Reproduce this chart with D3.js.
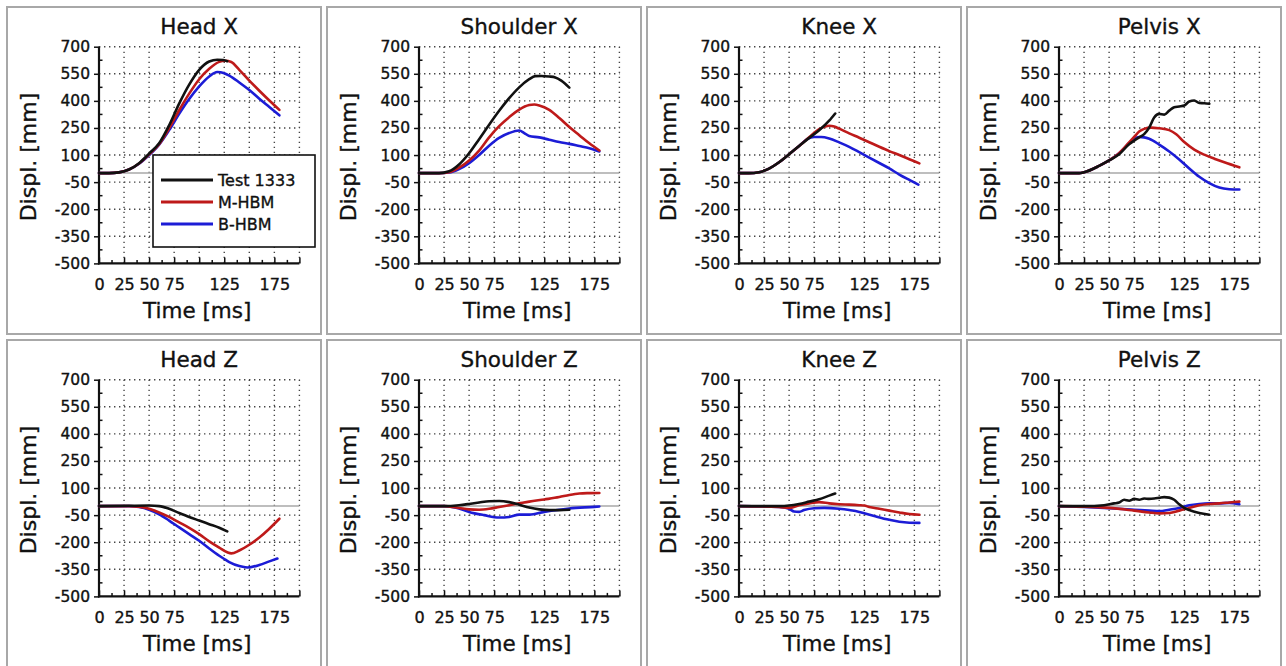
<!DOCTYPE html>
<html>
<head>
<meta charset="utf-8">
<script src="https://cdn.jsdelivr.net/npm/d3@7"></script>
<style>
  html, body { margin: 0; padding: 0; background: #fff; }
  svg { display: block; }
  text { font-family: "DejaVu Sans", Verdana, sans-serif; fill: #111; stroke: #111; stroke-width: 0.35px; }
</style>
</head>
<body>
<svg id="chart" width="1286" height="666"></svg>
<script>
// Panel titles, in reading order (top row: X displacement, bottom row: Z displacement)
const panelTitles = ["Head X", "Shoulder X", "Knee X", "Pelvis X",
                     "Head Z", "Shoulder Z", "Knee Z", "Pelvis Z"];
const seriesNames = ["Test 1333", "M-HBM", "B-HBM"];
const seriesColors = ["#111111", "#be1a1a", "#1c1cd6"];

const xGridTicks = [0, 25, 50, 75, 100, 125, 150, 175, 200];
const xLabelTicks = [0, 25, 50, 75, 125, 175];
const yTicks = [-500, -350, -200, -50, 100, 250, 400, 550, 700];

// [time ms, displacement mm]
const headXTest = [[0,0],[10,0],[20,4],[30,20],[40,55],[50,108],[60,165],[70,265],[80,385],[90,490],[100,572],[110,618],[118,628],[124,626],[128,620]];
const headXM    = [[0,0],[10,0],[20,4],[30,20],[40,53],[50,104],[60,160],[70,248],[80,348],[90,440],[100,520],[110,578],[120,616],[126,622],[132,615],[140,572],[150,512],[160,456],[170,402],[180,350]];
const headXB    = [[0,0],[10,0],[20,4],[30,20],[40,52],[50,100],[60,158],[70,238],[80,328],[90,410],[100,480],[110,535],[118,560],[125,553],[130,540],[140,502],[150,460],[160,412],[170,366],[180,320]];

const shoulderXTest = [[0,0],[20,0],[30,10],[40,48],[50,110],[60,188],[70,268],[80,345],[90,415],[100,475],[110,520],[116,537],[122,538],[130,535],[136,530],[142,512],[150,473]];
const shoulderXM    = [[0,0],[20,0],[30,5],[40,30],[50,70],[60,125],[70,198],[80,260],[90,310],[100,352],[110,377],[115,380],[120,375],[130,350],[140,305],[150,255],[160,210],[170,165],[180,125]];
const shoulderXB    = [[0,0],[20,0],[30,3],[40,22],[50,55],[60,100],[70,152],[80,195],[90,222],[100,236],[105,222],[110,205],[120,198],[130,185],[140,172],[150,162],[160,150],[170,138],[180,120]];

const kneeXTest = [[0,0],[10,0],[20,5],[30,25],[40,60],[50,105],[60,150],[70,195],[80,237],[90,290],[96,330]];
const kneeXM    = [[0,0],[10,0],[20,5],[30,25],[40,60],[50,105],[60,150],[70,198],[80,243],[86,258],[90,262],[95,258],[100,246],[110,220],[120,196],[130,171],[140,146],[150,122],[160,100],[170,77],[180,54]];
const kneeXB    = [[0,0],[10,0],[20,5],[30,25],[40,60],[50,105],[60,150],[68,188],[75,200],[82,200],[90,192],[100,170],[110,145],[120,116],[130,86],[140,56],[150,26],[160,-8],[170,-38],[179,-64]];

const pelvisXTest = [[0,0],[20,0],[25,5],[40,40],[50,70],[60,104],[70,160],[75,180],[80,198],[85,216],[90,252],[95,308],[100,328],[105,324],[110,346],[115,365],[120,369],[125,374],[130,397],[135,402],[140,388],[145,387],[150,384]];
const pelvisXM    = [[0,0],[20,0],[25,5],[40,40],[50,70],[60,110],[70,170],[75,200],[80,230],[85,245],[92,252],[100,248],[110,238],[117,215],[125,172],[135,130],[145,102],[155,80],[165,60],[180,32]];
const pelvisXB    = [[0,0],[20,0],[25,5],[40,40],[50,70],[60,110],[70,165],[75,190],[80,200],[85,198],[90,190],[100,158],[110,120],[120,76],[130,26],[140,-20],[150,-55],[160,-80],[170,-89],[180,-91]];

const headZTest = [[0,0],[30,2],[50,3],[60,0],[70,-15],[80,-38],[90,-60],[100,-80],[110,-100],[120,-120],[128,-140]];
const headZM    = [[0,0],[30,0],[40,-3],[50,-15],[60,-35],[70,-60],[80,-90],[90,-120],[100,-155],[110,-195],[120,-230],[128,-256],[132,-262],[140,-246],[150,-214],[160,-174],[170,-125],[180,-70]];
const headZB    = [[0,0],[30,0],[40,-5],[50,-20],[60,-45],[70,-80],[80,-118],[90,-155],[100,-192],[110,-235],[120,-275],[125,-293],[130,-310],[140,-332],[148,-340],[160,-326],[170,-306],[178,-290]];

const shoulderZTest = [[0,0],[25,0],[40,5],[50,12],[60,20],[70,27],[80,28],[90,22],[100,8],[110,-8],[120,-18],[130,-22],[140,-22],[150,-20]];
const shoulderZM    = [[0,0],[25,0],[40,-10],[50,-18],[60,-20],[70,-15],[80,-5],[90,5],[100,15],[110,25],[125,37],[140,50],[150,62],[160,70],[170,72],[180,73]];
const shoulderZB    = [[0,0],[25,0],[40,-13],[50,-32],[65,-50],[80,-63],[90,-60],[100,-47],[110,-47],[125,-32],[150,-13],[175,-4],[180,-2]];

const kneeZTest = [[0,0],[40,0],[50,3],[60,12],[70,25],[80,38],[90,58],[96,70]];
const kneeZM    = [[0,0],[40,-5],[50,-10],[60,5],[70,15],[80,22],[90,15],[100,10],[110,8],[120,5],[125,3],[130,-5],[140,-15],[150,-25],[160,-35],[170,-44],[180,-48]];
const kneeZB    = [[0,0],[40,-5],[50,-15],[55,-30],[60,-32],[65,-22],[75,-12],[85,-10],[100,-15],[110,-22],[120,-32],[125,-40],[135,-55],[150,-76],[160,-87],[170,-92],[180,-93]];

const pelvisZTest = [[0,0],[25,0],[45,5],[55,15],[60,20],[65,35],[70,30],[75,40],[80,35],[85,42],[90,40],[95,42],[100,46],[105,50],[110,47],[115,35],[120,10],[125,-10],[130,-22],[140,-38],[150,-48]];
const pelvisZM    = [[0,0],[25,-3],[50,-10],[75,-25],[90,-35],[100,-40],[110,-38],[120,-25],[130,-10],[140,5],[150,12],[160,15],[170,20],[180,25]];
const pelvisZB    = [[0,0],[25,-5],[50,-12],[75,-20],[90,-25],[100,-28],[110,-20],[120,-10],[130,5],[140,12],[150,15],[160,15],[170,18],[180,10]];

const panelSeries = [
  [headXTest, headXM, headXB],
  [shoulderXTest, shoulderXM, shoulderXB],
  [kneeXTest, kneeXM, kneeXB],
  [pelvisXTest, pelvisXM, pelvisXB],
  [headZTest, headZM, headZB],
  [shoulderZTest, shoulderZM, shoulderZB],
  [kneeZTest, kneeZM, kneeZB],
  [pelvisZTest, pelvisZM, pelvisZB]
];

// ---- layout ----
const frameLefts = [7, 327, 647, 967];
const frameTops = [7, 340];
const frameW = 314, frameH = 327;
const plotOffX = 92, plotOffY = 39.7;
const plotW = 200.4, plotH = 216.7;

const svg = d3.select("#chart");

const x = d3.scaleLinear().domain([0, 200]).range([0, plotW]);
const y = d3.scaleLinear().domain([-500, 700]).range([plotH, 0]);

panelTitles.forEach((title, i) => {
  const col = i % 4, row = Math.floor(i / 4);
  const fx = frameLefts[col], fy = frameTops[row];

  const frame = svg.append("g").attr("transform", `translate(${fx},${fy})`);
  frame.append("rect")
    .attr("x", 0).attr("y", 0)
    .attr("width", frameW).attr("height", frameH)
    .attr("fill", "#fff").attr("stroke", "#a8a8a8").attr("stroke-width", 2);

  const g = frame.append("g").attr("transform", `translate(${plotOffX},${plotOffY})`);

  // dotted grid
  g.append("g").selectAll("line.vg").data(xGridTicks.slice(1)).join("line")
    .attr("x1", d => x(d)).attr("x2", d => x(d))
    .attr("y1", 0).attr("y2", plotH)
    .attr("stroke", "#444").attr("stroke-width", 1.4)
    .attr("stroke-dasharray", "1.4,3.6");
  g.append("g").selectAll("line.hg").data(yTicks.slice(1)).join("line")
    .attr("x1", 0).attr("x2", plotW)
    .attr("y1", d => y(d)).attr("y2", d => y(d))
    .attr("stroke", "#444").attr("stroke-width", 1.4)
    .attr("stroke-dasharray", "1.4,3.6");

  // zero reference line
  g.append("line")
    .attr("x1", 0).attr("x2", plotW)
    .attr("y1", y(0)).attr("y2", y(0))
    .attr("stroke", "#a9a9a9").attr("stroke-width", 1.5);

  // x axis: major ticks every 25 ms, minor every 12.5 ms, pointing up
  const xAxis = d3.axisBottom(x)
    .tickValues(d3.range(0, 200.1, 12.5))
    .tickSize(0).tickFormat("");
  const xa = g.append("g").attr("transform", `translate(0,${plotH})`).call(xAxis);
  xa.select(".domain").remove();
  xa.selectAll(".tick line").remove();
  xa.selectAll(".tick").append("line")
    .attr("y1", 0).attr("y2", d => (d % 25 === 0 ? -6 : -3.5))
    .attr("stroke", "#111").attr("stroke-width", 1.5);
  xa.selectAll(".tick")
    .filter(d => xLabelTicks.includes(d))
    .append("text")
    .attr("y", 27).attr("text-anchor", "middle")
    .attr("font-size", 16)
    .text(d => d);
  g.append("line")
    .attr("x1", -1).attr("x2", plotW)
    .attr("y1", plotH).attr("y2", plotH)
    .attr("stroke", "#111").attr("stroke-width", 2.2);

  // y axis: labelled ticks every 150 mm pointing out, minor ticks in between pointing in
  const yAxis = d3.axisLeft(y).tickValues(yTicks).tickSize(5).tickPadding(4)
    .tickFormat(d => String(d));
  const ya = g.append("g").call(yAxis);
  ya.select(".domain").remove();
  ya.selectAll(".tick line").attr("stroke", "#111").attr("stroke-width", 1.5);
  ya.selectAll(".tick text")
    .attr("font-size", 15.5)
    .attr("font-family", "DejaVu Sans, Verdana, sans-serif")
    .attr("fill", "#111");
  g.append("g").selectAll("line").data(d3.range(-425, 700, 150)).join("line")
    .attr("x1", 0).attr("x2", 3.5)
    .attr("y1", d => y(d)).attr("y2", d => y(d))
    .attr("stroke", "#111").attr("stroke-width", 1.5);
  g.append("line")
    .attr("x1", 0).attr("x2", 0)
    .attr("y1", 0).attr("y2", plotH + 1)
    .attr("stroke", "#111").attr("stroke-width", 2.2);

  // data curves
  const line = d3.line()
    .x(d => x(d[0])).y(d => y(d[1]))
    .curve(d3.curveMonotoneX);
  // draw blue, red, then black on top
  [2, 1, 0].forEach(k => {
    g.append("path")
      .datum(panelSeries[i][k])
      .attr("d", line)
      .attr("fill", "none")
      .attr("stroke", seriesColors[k])
      .attr("stroke-width", 2.6)
      .attr("stroke-linejoin", "round")
      .attr("stroke-linecap", "round");
  });

  // title and axis titles
  frame.append("text")
    .attr("x", plotOffX + plotW / 2).attr("y", 26.5)
    .attr("text-anchor", "middle").attr("font-size", 21.5)
    .text(title);
  frame.append("text")
    .attr("x", plotOffX + plotW / 2 - 2).attr("y", plotOffY + plotH + 54.5)
    .attr("text-anchor", "middle").attr("font-size", 21.5)
    .text("Time [ms]");
  frame.append("text")
    .attr("transform", `translate(${plotOffX - 63},${plotOffY + plotH / 2 + 2}) rotate(-90)`)
    .attr("text-anchor", "middle").attr("font-size", 22)
    .text("Displ. [mm]");

  // legend lives in the first panel only
  if (i === 0) {
    const lg = frame.append("g").attr("transform", "translate(146,148)");
    lg.append("rect")
      .attr("width", 162).attr("height", 92)
      .attr("fill", "#fff").attr("stroke", "#111").attr("stroke-width", 1.6);
    seriesNames.forEach((name, k) => {
      const ly = 25 + k * 22;
      lg.append("line")
        .attr("x1", 8).attr("x2", 60)
        .attr("y1", ly).attr("y2", ly)
        .attr("stroke", seriesColors[k]).attr("stroke-width", 3);
      lg.append("text")
        .attr("x", 65).attr("y", ly + 6)
        .attr("font-size", 16)
        .text(name);
    });
  }
});
</script>
</body>
</html>
